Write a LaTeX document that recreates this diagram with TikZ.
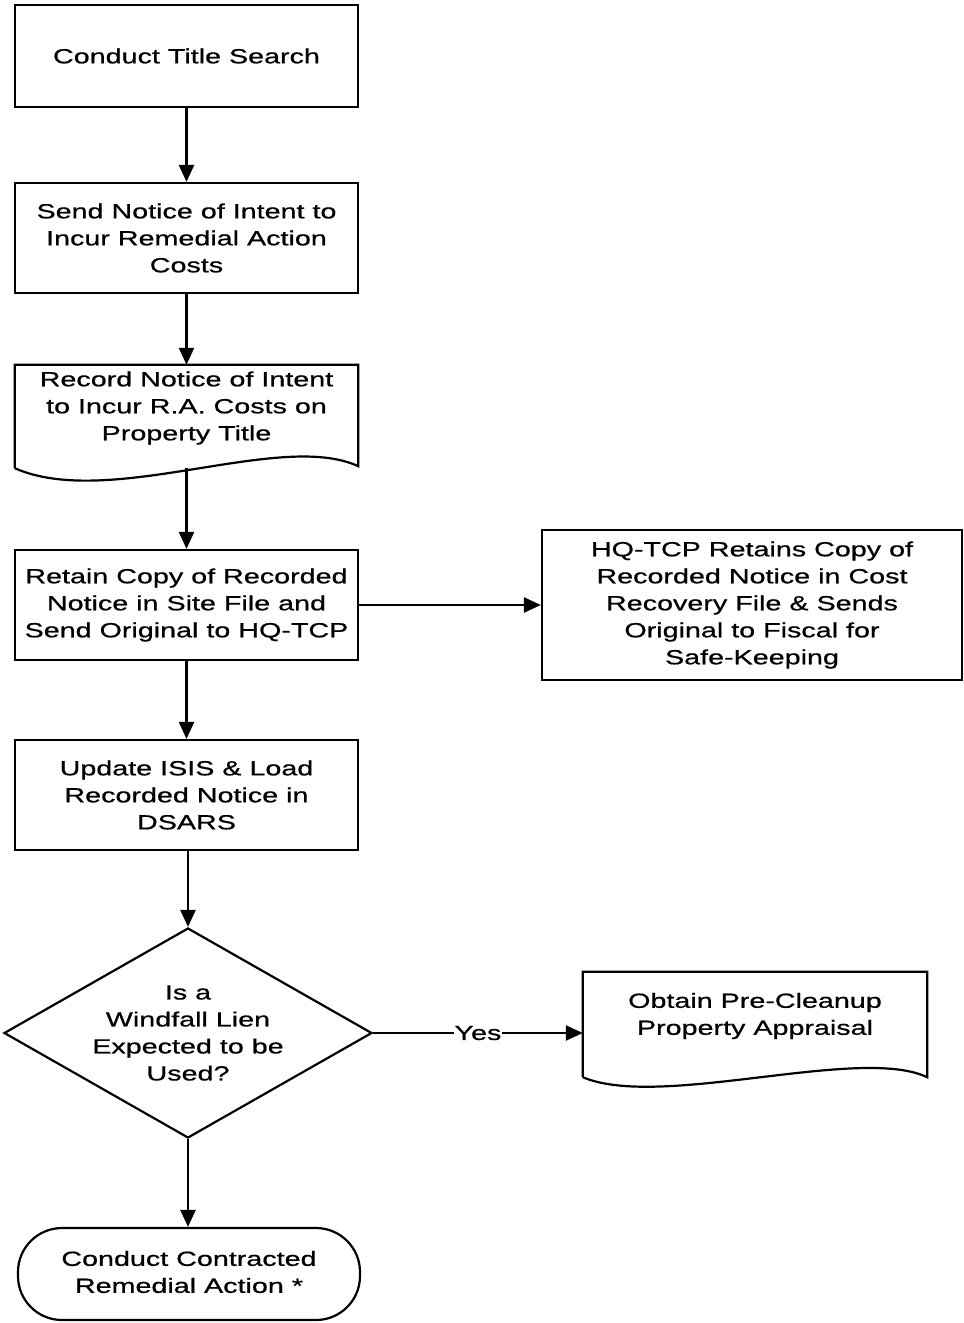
\documentclass[tikz,border=0pt]{standalone}
\usepackage{fontspec}
\setmainfont{Liberation Sans}[FakeStretch=1.4, FakeBold=0.7]
\usetikzlibrary{shapes.geometric,arrows.meta,calc}

\begin{document}
\begin{tikzpicture}[x=1pt,y=-1pt,
  every node/.style={font=\fontsize{20.5}{27}\selectfont, align=center},
  stepbox/.style={draw, line width=2.2pt, rectangle, inner sep=0pt,
                  minimum width=343pt},
  docshape/.style={rectangle, inner sep=0pt},
  txt/.style={inner sep=0pt},
  outline/.style={line width=2.2pt, line join=miter},
  flow/.style={line width=2.4pt, -{Triangle[length=17pt,width=15pt]}}]

\useasboundingbox (0,0) rectangle (964,1323);

% process steps
\node[stepbox, minimum height=102pt] (search) at (186.5,56)
  {Conduct Title Search};
\node[stepbox, minimum height=110pt] (notice) at (186.5,238)
  {Send Notice of Intent to\\Incur Remedial Action\\Costs};

% document: recorded notice
\node[docshape, minimum width=343pt, minimum height=103pt] (record) at (186.5,416.5) {};
\draw[outline] (record.south west) -- (record.north west) -- (record.north east)
  -- ($(record.south east)+(0,-2)$)
  .. controls (280,430) and (110,510) .. (record.south west);
\node[txt] (recordtxt) at (186.5,408)
  {Record Notice of Intent\\to Incur R.A. Costs on\\Property Title};

\node[stepbox, minimum height=110pt] (retain) at (186.5,605)
  {Retain Copy of Recorded\\Notice in Site File and\\Send Original to HQ-TCP};
\node[stepbox, minimum width=420pt, minimum height=150pt] (hq) at (752,605)
  {HQ-TCP Retains Copy of\\Recorded Notice in Cost\\Recovery File \& Sends\\Original to Fiscal for\\Safe-Keeping};

\node[stepbox, minimum height=110pt] (update) at (186.5,795)
  {Update ISIS \& Load\\Recorded Notice in\\DSARS};

% decision
\node[draw, line width=2.2pt, diamond, inner sep=0pt, aspect=1.75,
      minimum width=368pt, minimum height=210pt] (lien) at (188,1033) {};
\node[txt] (lientxt) at (188,1033)
  {Is a\\Windfall Lien\\Expected to be\\Used?};

% document: appraisal
\node[docshape, minimum width=344pt, minimum height=105pt] (apprais) at (755,1024.5) {};
\draw[outline] (apprais.south west) -- (apprais.north west) -- (apprais.north east)
  -- (apprais.south east)
  .. controls (860,1045) and (660,1110) .. (apprais.south west);
\node[txt] (appraistxt) at (755,1016)
  {Obtain Pre-Cleanup\\Property Appraisal};

% terminal
\node[draw, line width=2.2pt, rectangle, rounded corners=44pt, inner sep=0pt,
      minimum width=342pt, minimum height=92pt] (contract) at (189,1274) {};
\node[txt] (contracttxt) at (189,1272)
  {Conduct Contracted\\Remedial Action *};

% connectors
\draw[flow] (search.south) -- (notice.north);
\draw[flow] (notice.south) -- (record.north);
\draw[flow] (record.south) -- (retain.north);
\draw[flow] (retain.east) -- (hq.west);
\draw[flow] (retain.south) -- (update.north);
\draw[flow] (update.south -| lien.north) -- (lien.north);
\draw[flow] (lien.east) -- node[fill=white, inner sep=1pt] (yes) {Yes} (apprais.west |- lien.east);
\draw[flow] (lien.south) -- (contract.north -| lien.south);
\end{tikzpicture}
\end{document}
